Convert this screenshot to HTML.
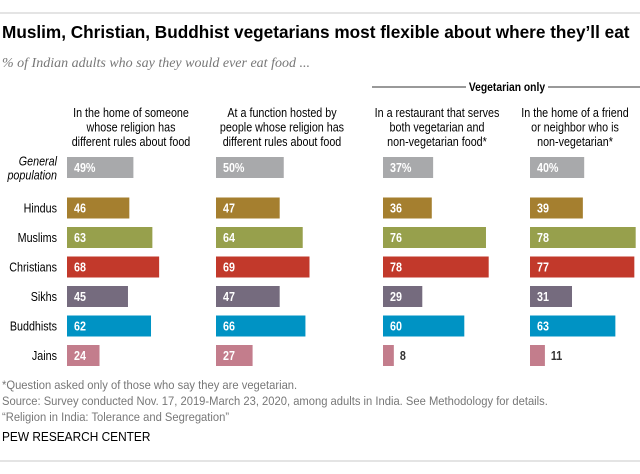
<!DOCTYPE html>
<html><head><meta charset="utf-8"><style>
html,body{margin:0;padding:0;background:#fff}
svg{display:block;font-family:"Liberation Sans",sans-serif}
</style></head><body>
<svg id="chart" width="640" height="474" viewBox="0 0 640 474" xmlns="http://www.w3.org/2000/svg">
<line x1="0" y1="13" x2="640" y2="13" stroke="#c8c8c8" stroke-width="1"/>
<text x="2" y="38" font-weight="bold" font-size="17.2" fill="#000">Muslim, Christian, Buddhist vegetarians most flexible about where they’ll eat</text>
<text x="2" y="67" font-family="Liberation Serif" font-style="italic" font-size="14" fill="#777">% of Indian adults who say they would ever eat food ...</text>
<line x1="372" y1="87" x2="466" y2="87" stroke="#333" stroke-width="1"/>
<line x1="548" y1="87" x2="640" y2="87" stroke="#333" stroke-width="1"/>
<text transform="scale(0.86,1)" x="589.5" y="91" text-anchor="middle" font-weight="bold" font-size="12" fill="#000">Vegetarian only</text>
<g id="headers"></g>
<g id="rowlabels"></g>
<g id="bars"></g>
<g transform="scale(0.95,1)" fill="#777" font-size="11.8">
<text x="2.1" y="389">*Question asked only of those who say they are vegetarian.</text>
<text x="2.1" y="405">Source: Survey conducted Nov. 17, 2019-March 23, 2020, among adults in India. See Methodology for details.</text>
<text x="2.1" y="421">“Religion in India: Tolerance and Segregation”</text>
<text x="2.1" y="441" fill="#000" font-size="12.5">PEW RESEARCH CENTER</text>
</g>
<line x1="0" y1="461" x2="640" y2="461" stroke="#c8c8c8" stroke-width="1"/>
</svg>
<script>
const groups = ["General population","Hindus","Muslims","Christians","Sikhs","Buddhists","Jains"];
const homeOtherReligion = [49,46,63,68,45,62,24];
const functionOtherReligion = [50,47,64,69,47,66,27];
const mixedRestaurant = [37,36,76,78,29,60,8];
const nonVegHome = [40,39,78,77,31,63,11];
const columnHeaders = [
 ["In the home of someone","whose religion has","different rules about food"],
 ["At a function hosted by","people whose religion has","different rules about food"],
 ["In a restaurant that serves","both vegetarian and","non-vegetarian food*"],
 ["In the home of a friend","or neighbor who is","non-vegetarian*"]
];
const colors = ["#a8a9ab","#a57f2f","#97a04c","#c2392b","#756b7e","#0093c4","#c37d8c"];
const series = [homeOtherReligion,functionOtherReligion,mixedRestaurant,nonVegHome];
const NS="http://www.w3.org/2000/svg";
const colX=[67,216,383,530], headerCX=[131,282,437,575];
const scale=1.355, SX=0.86;
function x(v){return v*scale;}
function rowY(i){return i===0?167.5:208+(i-1)*29.5;}
const H=21;
function mk(tag,attrs,parent){const e=document.createElementNS(NS,tag);for(const k in attrs)e.setAttribute(k,attrs[k]);parent.appendChild(e);return e;}
function ntext(px,py,attrs,parent){attrs.x=px/SX;attrs.y=py;attrs.transform='scale('+SX+',1)';return mk('text',attrs,parent);}
const hg=document.getElementById('headers');
columnHeaders.forEach((lines,c)=>{lines.forEach((t,l)=>{
 const e=ntext(headerCX[c],117+l*14.5,{'text-anchor':'middle','font-size':'12.5',fill:'#000'},hg);
 
 
 e.textContent=t;});});
const rg=document.getElementById('rowlabels');
groups.forEach((g,i)=>{
 if(i===0){
  ["General","population"].forEach((t,l)=>{const e=ntext(57,rowY(0)-2+l*14,{'text-anchor':'end','font-size':'12.5','font-style':'italic',fill:'#000'},rg);
  
  
  e.textContent=t;});
 } else {
  const e=ntext(57,rowY(i)+4.5,{'text-anchor':'end','font-size':'12.5',fill:'#000'},rg);
  
  
  e.textContent=g;
 }
});
const bg=document.getElementById('bars');
series.forEach((vals,c)=>{vals.forEach((v,i)=>{
 const y=rowY(i)-H/2, w=x(v);
 const r=mk('rect',{x:colX[c],y:y,width:w,height:H,fill:colors[i]},bg);
 
 
 const inside=w>30;
 const t=ntext(inside?colX[c]+7:colX[c]+w+6,rowY(i)+4.5,{'font-size':'12.5','font-weight':'bold',fill:inside?'#fff':'#333'},bg);
 
 
 t.textContent=v+(i===0?'%':'');
});});
</script>
</body></html>
